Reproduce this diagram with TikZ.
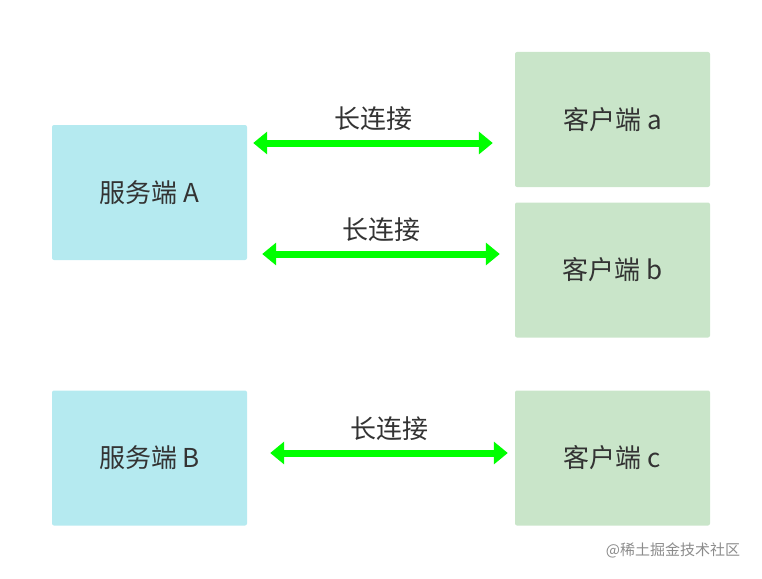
\documentclass[tikz,border=0pt]{standalone}
\usepackage{fontspec}
\setmainfont{Noto Sans CJK SC}
\usetikzlibrary{arrows.meta}
\definecolor{srvblue}{HTML}{B5EAF0}
\definecolor{cltgreen}{HTML}{C9E5C9}
\definecolor{linkgreen}{HTML}{00FF00}
\begin{document}
\begin{tikzpicture}[x=1pt,y=-1pt]
\tikzset{server/.style = {rectangle, rounded corners=2pt, minimum width=195pt, minimum height=135pt, fill=srvblue, text=black!80, font=\fontsize{26}{30}\selectfont},
client/.style = {server, fill=cltgreen},
link/.style = {line width=7pt, draw=linkgreen, {Triangle[length=14pt,width=22pt]}-{Triangle[length=14pt,width=22pt]}},
tag/.style = {text=black!80, font=\fontsize{26}{30}\selectfont}}
\useasboundingbox (0,0) rectangle (762,578);
%
\node (A) [server] at (149.5,192.5) {服务端 A};
\node (B) [server] at (149.5,458)   {服务端 B};
\node (a) [client] at (612.5,119.5) {客户端 a};
\node (b) [client] at (612.5,270)   {客户端 b};
\node (c) [client] at (612.5,458)   {客户端 c};
%
\draw [link] ([xshift=6pt,yshift=49.5pt]A.east) -- ([xshift=-22pt,yshift=-23.5pt]a.west) node [tag, midway, above=6pt] {长连接};
\draw [link] ([xshift=15pt,yshift=-61.5pt]A.east) -- ([xshift=-15pt,yshift=16pt]b.west) node [tag, midway, above=6pt] {长连接};
\draw [link] ([xshift=23pt,yshift=5pt]B.east) -- ([xshift=-7pt,yshift=5pt]c.west) node [tag, midway, above=6pt] {长连接};
%
\node (wm) [text=black!45, font=\fontsize{15}{18}\selectfont] at (673,550) {@稀土掘金技术社区};
\end{tikzpicture}
\end{document}
